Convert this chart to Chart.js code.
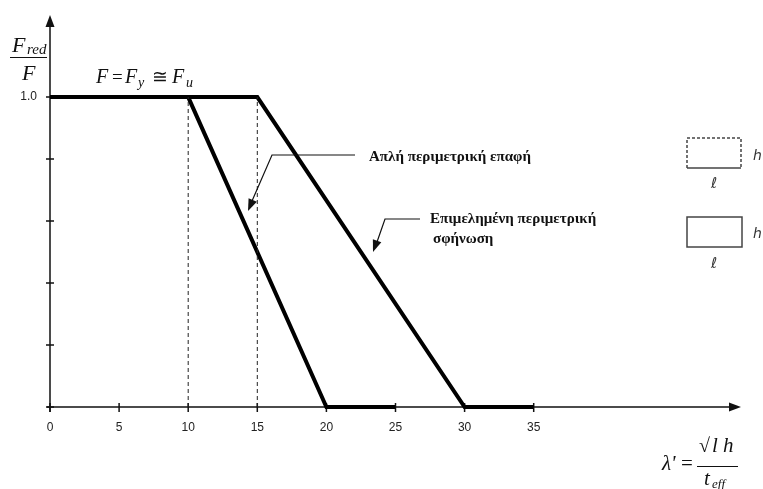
<!DOCTYPE html>
<html>
<head>
<meta charset="utf-8">
<script src="https://cdn.jsdelivr.net/npm/chart.js@4"></script>
<style>
  html, body { margin: 0; padding: 0; background: #fff; }
</style>
</head>
<body>
<canvas id="chart" width="763" height="489"></canvas>
<script>
// values
const xTicks = [0, 5, 10, 15, 20, 25, 30, 35];
const yTicks = [0, 0.2, 0.4, 0.6, 0.8, 1.0];
const simpleX = [0, 10, 20, 25];   // Απλή περιμετρική επαφή
const simpleY = [1, 1, 0, 0];
const wedgedX = [0, 15, 30, 35];   // Επιμελημένη περιμετρική σφήνωση
const wedgedY = [1, 1, 0, 0];
const dashX = [10, 15];            // dashed verticals
const dashY = [0, 1];

const pts = (xs, ys) => xs.map((x, i) => ({ x: x, y: ys[i] }));

const INK = '#111';
const SERIF = '"Liberation Serif", "DejaVu Serif", serif';
const SANS = '"Liberation Sans", Arial, sans-serif';

function arrowHead(ctx, fx, fy, tx, ty, len, half) {
  const a = Math.atan2(ty - fy, tx - fx);
  ctx.beginPath();
  ctx.moveTo(tx, ty);
  ctx.lineTo(tx - len * Math.cos(a) + half * Math.sin(a), ty - len * Math.sin(a) - half * Math.cos(a));
  ctx.lineTo(tx - len * Math.cos(a) - half * Math.sin(a), ty - len * Math.sin(a) + half * Math.cos(a));
  ctx.closePath();
  ctx.fill();
}

// axes with arrows and crossing tick marks
const axesPlugin = {
  id: 'axes',
  beforeDatasetsDraw(chart) {
    const { ctx, chartArea: a, scales: { x, y } } = chart;
    const x0 = x.getPixelForValue(0), y0 = y.getPixelForValue(0);
    ctx.save();
    ctx.strokeStyle = INK;
    ctx.fillStyle = INK;
    ctx.lineWidth = 1.5;
    ctx.beginPath();
    ctx.moveTo(x0 - 3, y0);
    ctx.lineTo(a.right - 6, y0);
    ctx.moveTo(x0, y0 + 5);
    ctx.lineTo(x0, a.top + 6);
    ctx.stroke();
    arrowHead(ctx, x0, y0, a.right, y0, 12, 4.5);
    arrowHead(ctx, x0, y0, x0, a.top, 12, 4.5);
    ctx.beginPath();
    xTicks.forEach(v => {
      const px = x.getPixelForValue(v);
      ctx.moveTo(px, y0 - 4);
      ctx.lineTo(px, y0 + 5);
    });
    yTicks.forEach(v => {
      const py = y.getPixelForValue(v);
      ctx.moveTo(x0 - 4, py);
      ctx.lineTo(x0 + 4, py);
    });
    ctx.stroke();
    ctx.restore();
  }
};

function txt(ctx, s, px, py, font, align) {
  ctx.font = font;
  ctx.textAlign = align || 'left';
  ctx.fillText(s, px, py);
}

// labels, leaders and the two little wall sketches
const notesPlugin = {
  id: 'notes',
  afterDraw(chart) {
    const { ctx } = chart;
    ctx.save();
    ctx.fillStyle = INK;
    ctx.strokeStyle = INK;
    ctx.textBaseline = 'alphabetic';

    // F_red / F
    txt(ctx, 'F', 12, 52, 'italic 22px ' + SERIF);
    txt(ctx, 'red', 27, 54, 'italic 15px ' + SERIF);
    ctx.lineWidth = 1;
    ctx.beginPath(); ctx.moveTo(10, 57.5); ctx.lineTo(47, 57.5); ctx.stroke();
    txt(ctx, 'F', 22, 80, 'italic 22px ' + SERIF);

    // F = F_y ≅ F_u
    txt(ctx, 'F', 96, 83, 'italic 20px ' + SERIF);
    txt(ctx, '=', 112, 83, '19px ' + SERIF);
    txt(ctx, 'F', 125, 83, 'italic 20px ' + SERIF);
    txt(ctx, 'y', 138, 87, 'italic 14px ' + SERIF);
    txt(ctx, '\u2245', 152, 83, '19px ' + SERIF);
    txt(ctx, 'F', 172, 83, 'italic 20px ' + SERIF);
    txt(ctx, 'u', 186, 87, 'italic 14px ' + SERIF);

    // leaders
    ctx.lineWidth = 1.2;
    ctx.beginPath();
    ctx.moveTo(355, 155); ctx.lineTo(272, 155); ctx.lineTo(252, 201);
    ctx.moveTo(420, 219); ctx.lineTo(385, 219); ctx.lineTo(377, 242);
    ctx.stroke();
    arrowHead(ctx, 272, 155, 248, 211, 12, 4.5);
    arrowHead(ctx, 385, 219, 373, 252, 12, 4.5);

    txt(ctx, 'Απλή περιμετρική επαφή', 369, 161, 'bold 15px ' + SERIF);
    txt(ctx, 'Επιμελημένη περιμετρική', 430, 223, 'bold 15px ' + SERIF);
    txt(ctx, 'σφήνωση', 433, 243, 'bold 15px ' + SERIF);

    // wall sketches
    ctx.strokeStyle = '#444';
    ctx.lineWidth = 1.5;
    ctx.setLineDash([3, 2]);
    ctx.beginPath();
    ctx.moveTo(687, 168); ctx.lineTo(687, 138); ctx.lineTo(741, 138); ctx.lineTo(741, 168);
    ctx.stroke();
    ctx.setLineDash([]);
    ctx.beginPath(); ctx.moveTo(687, 168); ctx.lineTo(741, 168); ctx.stroke();
    ctx.strokeRect(687, 217, 55, 30);
    ctx.fillStyle = '#333';
    txt(ctx, 'h', 753, 160, 'italic 14px "DejaVu Sans", sans-serif');
    txt(ctx, '\u2113', 714, 188, 'italic 15px "DejaVu Sans", sans-serif', 'center');
    txt(ctx, 'h', 753, 238, 'italic 14px "DejaVu Sans", sans-serif');
    txt(ctx, '\u2113', 714, 268, 'italic 15px "DejaVu Sans", sans-serif', 'center');

    // λ' = √(l h) / t_eff
    ctx.fillStyle = INK;
    ctx.strokeStyle = INK;
    txt(ctx, 'λ\'', 662, 470, 'italic 21px ' + SERIF);
    txt(ctx, '=', 681, 470, '21px ' + SERIF);
    txt(ctx, '\u221A', 699, 452, 'bold 20px ' + SERIF);
    txt(ctx, 'l h', 712, 452, 'italic 21px ' + SERIF);
    ctx.lineWidth = 1.2;
    ctx.beginPath(); ctx.moveTo(697, 466.5); ctx.lineTo(738, 466.5); ctx.stroke();
    txt(ctx, 't', 704, 485, 'italic 21px ' + SERIF);
    txt(ctx, 'eff', 712, 488, 'italic 13px ' + SERIF);
    ctx.restore();
  }
};

const thick = { borderColor: '#000', borderWidth: 4, pointRadius: 0, showLine: true, fill: false,
                tension: 0, borderJoinStyle: 'miter', clip: false };
const dashed = { borderColor: '#222', borderWidth: 1, borderDash: [4, 3], pointRadius: 0,
                 showLine: true, fill: false, clip: false };

new Chart(document.getElementById('chart'), {
  type: 'scatter',
  data: {
    datasets: [
      Object.assign({ label: 'dash10', data: pts([dashX[0], dashX[0]], dashY) }, dashed),
      Object.assign({ label: 'dash15', data: pts([dashX[1], dashX[1]], dashY) }, dashed),
      Object.assign({ label: 'Απλή περιμετρική επαφή', data: pts(simpleX, simpleY) }, thick),
      Object.assign({ label: 'Επιμελημένη περιμετρική σφήνωση', data: pts(wedgedX, wedgedY) }, thick)
    ]
  },
  options: {
    responsive: false,
    devicePixelRatio: 1,
    animation: false,
    layout: { padding: { top: 15, right: 22, left: 0, bottom: 0 } },
    plugins: { legend: { display: false }, tooltip: { enabled: false } },
    scales: {
      x: {
        type: 'linear', min: 0, max: 50,
        afterBuildTicks: s => { s.ticks = xTicks.map(v => ({ value: v })); },
        afterFit: s => { s.height = 82; s.paddingLeft = 0; s.paddingRight = 0; },
        grid: { display: false, drawTicks: false },
        border: { display: false },
        ticks: { padding: 13, autoSkip: false, maxRotation: 0, color: '#222',
                 font: { family: SANS, size: 12 } }
      },
      y: {
        type: 'linear', min: 0, max: 1.265,
        afterBuildTicks: s => { s.ticks = yTicks.map(v => ({ value: v })); },
        afterFit: s => { s.width = 50; s.paddingTop = 0; s.paddingBottom = 0; },
        grid: { display: false, drawTicks: false },
        border: { display: false },
        ticks: { padding: 13, color: '#222', font: { family: SANS, size: 12 },
                 callback: v => Math.abs(v - 1) < 1e-9 ? '1.0' : '' }
      }
    }
  },
  plugins: [axesPlugin, notesPlugin]
});
</script>
</body>
</html>
